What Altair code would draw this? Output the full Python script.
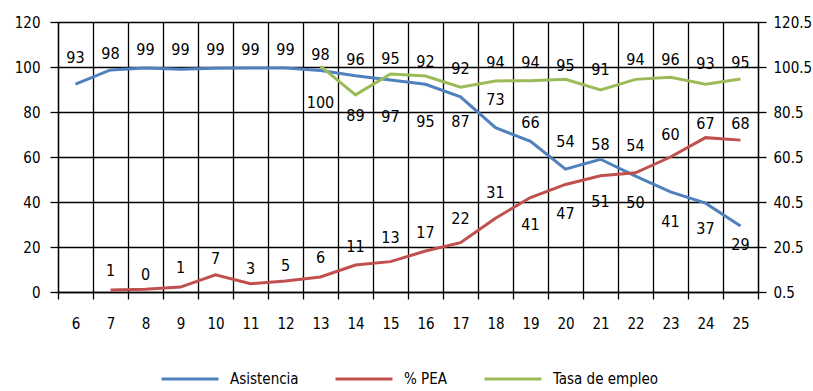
import altair as alt
import pandas as pd

ages = list(range(6, 26))
series_names = ["Asistencia", "% PEA", "Tasa de empleo"]
colors = ["#4F81BD", "#C0504D", "#9BBB59"]

asistencia = [92.4, 98.7, 99.6, 99.0, 99.4, 99.6, 99.6, 98.4, 96.1, 94.2,
              92.3, 86.7, 73.0, 67.0, 54.6, 59.0, 51.5, 44.5, 39.5, 29.3]
asistencia_lbl = [93, 98, 99, 99, 99, 99, 99, 98, 96, 95,
                  92, 87, 73, 66, 54, 58, 50, 41, 37, 29]
pea = [None, 0.9, 1.2, 2.2, 7.6, 3.7, 4.9, 6.7, 12.0, 13.5,
       18.2, 21.9, 32.8, 42.0, 47.8, 51.7, 53.0, 60.0, 68.6, 67.5]
pea_lbl = [None, 1, 0, 1, 7, 3, 5, 6, 11, 13,
           17, 22, 31, 41, 47, 51, 54, 60, 67, 68]
empleo = [None] * 7 + [100.9, 88.1, 97.4, 96.5, 91.5, 94.3, 94.4, 95.0,
                       90.3, 95.0, 95.9, 92.8, 95.2]
empleo_lbl = [None] * 7 + [100, 89, 97, 95, 92, 94, 94, 95, 91, 94, 96, 93, 95]

# label offsets (pixels, style only; negative = above the line)
asis_off = [-26, -16, -18, -19, -18, -18, -18, -16, -16, -21,
            -22, 25, -28, -18, -27, -14, 27, 30, 26, 19]
pea_off = [0, -19, -14, -19, -16, -15, -15, -19, -18, -24,
           -18, -24, -25, 27, 30, 26, -27, -22, -14, -16]
emp_off = [0] * 7 + [37, 21, 43, 46, -18, -18, -18, -13, -20, -19, -17, -20, -16]

PX_PER_UNIT = 270 / 120.0

rows = []
for name, vals, lbls, offs in [
    ("Asistencia", asistencia, asistencia_lbl, asis_off),
    ("% PEA", pea, pea_lbl, pea_off),
    ("Tasa de empleo", empleo, empleo_lbl, emp_off),
]:
    for a, v, l, o in zip(ages, vals, lbls, offs):
        if v is None:
            continue
        rows.append({"age": a, "serie": name, "value": v, "label": str(l), "off": o})
df = pd.DataFrame(rows)
left_df = df[df.serie != "Tasa de empleo"]
right_df = df[df.serie == "Tasa de empleo"]

FONT = "DejaVu Sans Condensed"
AX_FS = 15
LBL_FS = 16

x_enc = alt.X(
    "age:O",
    scale=alt.Scale(paddingInner=0, paddingOuter=0),
    axis=alt.Axis(
        title=None, labelAngle=0, tickBand="extent", grid=True,
        gridColor="black", gridWidth=1.3, gridOpacity=1,
        tickColor="black", tickSize=7, tickWidth=1.3,
        domainColor="black", domainWidth=1.3,
        labelPadding=17, labelFontSize=AX_FS, labelColor="black", labelFont=FONT,
    ),
)

color_enc = alt.Color(
    "serie:N",
    scale=alt.Scale(domain=series_names, range=colors),
    legend=alt.Legend(
        title=None, orient="none", legendX=102, legendY=327,
        direction="horizontal", symbolType="stroke", symbolSize=3249,
        symbolStrokeWidth=3, labelFontSize=AX_FS, labelFont=FONT,
        labelColor="black", columnPadding=30, labelOffset=10, padding=0,
    ),
)

y_left = alt.Y(
    "value:Q",
    scale=alt.Scale(domain=[0, 120], nice=False, zero=False),
    axis=alt.Axis(
        title=None, values=[0, 20, 40, 60, 80, 100, 120], format="d",
        grid=True, gridColor="black", gridWidth=1.3, gridOpacity=1,
        tickColor="black", tickSize=8, tickWidth=1.3,
        domainColor="black", domainWidth=1.3,
        labelPadding=10, labelFontSize=AX_FS, labelColor="black", labelFont=FONT,
    ),
)

y_right = alt.Y(
    "value:Q",
    scale=alt.Scale(domain=[0.5, 120.5], nice=False, zero=False),
    axis=alt.Axis(
        title=None, orient="right",
        values=[0.5, 20.5, 40.5, 60.5, 80.5, 100.5, 120.5], format=".1f",
        grid=False, tickColor="black", tickSize=8, tickWidth=1.3,
        domainColor="black", domainWidth=1.3,
        labelPadding=7, labelFontSize=AX_FS, labelColor="black", labelFont=FONT,
    ),
)

left_lines = alt.Chart(left_df).mark_line(strokeWidth=3).encode(
    x=x_enc, y=y_left, color=color_enc, detail="serie:N"
)
left_text = alt.Chart(left_df).transform_calculate(
    ly=f"datum.value - datum.off / {PX_PER_UNIT}"
).mark_text(
    fontSize=LBL_FS, font=FONT, color="black", baseline="middle"
).encode(
    x=alt.X("age:O"), y=alt.Y("ly:Q"), text="label:N",
)
right_line = alt.Chart(right_df).mark_line(strokeWidth=3).encode(
    x=alt.X("age:O"), y=y_right, color=color_enc
)
right_text = alt.Chart(right_df).transform_calculate(
    ly=f"datum.value - datum.off / {PX_PER_UNIT}"
).mark_text(
    fontSize=LBL_FS, font=FONT, color="black", baseline="middle"
).encode(
    x=alt.X("age:O"), y=alt.Y("ly:Q"), text="label:N",
)

chart = alt.layer(
    alt.layer(left_lines, left_text),
    alt.layer(right_line, right_text),
).resolve_scale(y="independent").properties(
    width=700, height=270,
    autosize=alt.AutoSizeParams(type="none"),
    padding={"left": 58, "top": 22, "right": 55, "bottom": 99},
).configure_view(stroke=None).configure(font=FONT, background="white")

chart.save("out.html", embed_options={"renderer": "svg", "actions": False})
